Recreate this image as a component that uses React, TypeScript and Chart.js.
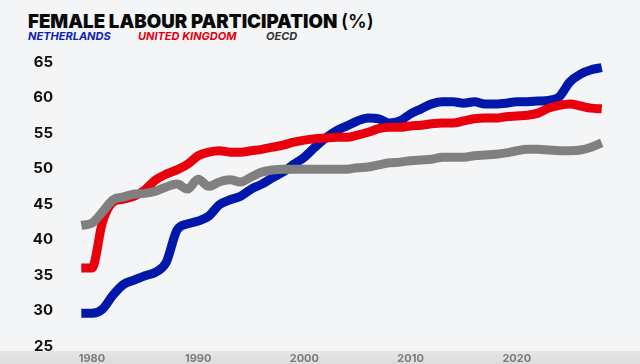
import React, { useEffect, useRef } from "react";
import { Chart, registerables } from "chart.js";

Chart.register(...registerables);

const years = [
  1979, 1980, 1981, 1982, 1983, 1984, 1985, 1986, 1987, 1988, 1989,
  1990, 1991, 1992, 1993, 1994, 1995, 1996, 1997, 1998, 1999,
  2000, 2001, 2002, 2003, 2004, 2005, 2006, 2007, 2008, 2009,
  2010, 2011, 2012, 2013, 2014, 2015, 2016, 2017, 2018, 2019,
  2020, 2021, 2022, 2023, 2024, 2025, 2026, 2027, 2028,
];

const netherlands = [
  29.6, 29.6, 30.2, 32.2, 33.7, 34.3, 34.9, 35.4, 36.8, 41.3, 42.2,
  42.6, 43.3, 44.9, 45.6, 46.1, 47.1, 47.8, 48.7, 49.5, 50.6,
  51.6, 53.0, 54.3, 55.3, 56.0, 56.7, 57.1, 57.0, 56.4, 56.7,
  57.7, 58.4, 59.1, 59.4, 59.4, 59.2, 59.4, 59.1, 59.1, 59.2,
  59.4, 59.4, 59.5, 59.6, 60.1, 62.2, 63.3, 63.9, 64.2,
];

const unitedKingdom = [
  36.0, 36.0, 42.5, 45.3, 45.7, 46.1, 47.0, 48.4, 49.2, 49.8, 50.6,
  51.8, 52.3, 52.5, 52.3, 52.3, 52.5, 52.7, 53.0, 53.3, 53.7,
  54.0, 54.2, 54.3, 54.4, 54.4, 54.7, 55.1, 55.6, 55.8, 55.8,
  56.0, 56.1, 56.3, 56.4, 56.4, 56.7, 57.0, 57.1, 57.1, 57.3,
  57.4, 57.5, 57.8, 58.5, 58.9, 59.1, 58.8, 58.5, 58.4,
];

const oecd = [
  42.0, 42.3, 43.9, 45.6, 46.0, 46.4, 46.5, 46.8, 47.4, 47.8, 47.1,
  48.5, 47.5, 48.1, 48.4, 48.1, 48.8, 49.5, 49.8, 49.9, 49.9,
  49.9, 49.9, 49.9, 49.9, 49.9, 50.1, 50.2, 50.5, 50.8, 50.9,
  51.1, 51.2, 51.3, 51.6, 51.6, 51.6, 51.8, 51.9, 52.0, 52.2,
  52.5, 52.7, 52.7, 52.6, 52.5, 52.5, 52.6, 53.0, 53.6,
];

const xTicks = [1980, 1990, 2000, 2010, 2020];
const yTicks = [25, 30, 35, 40, 45, 50, 55, 60, 65];

const title = "FEMALE LABOUR PARTICIPATION";
const titleSuffix = "(%)";
const legendItems = [
  { label: "NETHERLANDS", color: "#0a22b0" },
  { label: "UNITED KINGDOM", color: "#e3000f" },
  { label: "OECD", color: "#333333" },
];

const BLUE = "#0018aa";
const RED = "#e8000c";
const GRAY = "#808080";

export default function App() {
  const canvasRef = useRef<HTMLCanvasElement | null>(null);

  useEffect(() => {
    const canvas = canvasRef.current;
    if (!canvas) return;
    const mk = (vals: number[]) => years.map((y, i) => ({ x: y, y: vals[i] }));
    const ds = (label: string, vals: number[], color: string) => ({
      label,
      data: mk(vals),
      borderColor: color,
      backgroundColor: color,
      borderWidth: 9,
      pointRadius: 0,
      tension: 0.4,
      cubicInterpolationMode: "monotone" as const,
      fill: false,
      clip: false as any,
      borderCapStyle: "butt" as const,
      borderJoinStyle: "round" as const,
    });
    const chart = new Chart(canvas, {
      type: "line",
      data: {
        datasets: [
          ds("OECD", oecd, GRAY),
          ds("United Kingdom", unitedKingdom, RED),
          ds("Netherlands", netherlands, BLUE),
        ],
      },
      options: {
        animation: false,
        responsive: false,
        maintainAspectRatio: false,
        layout: { padding: { left: 0, right: 17, top: 62, bottom: 0 } },
        plugins: {
          legend: { display: false },
          title: { display: false },
          tooltip: { enabled: false },
        },
        scales: {
          x: {
            type: "linear",
            min: 1978.5,
            max: 2030,
            border: { display: false },
            grid: { display: false, drawTicks: false },
            afterBuildTicks: (s: any) => {
              s.ticks = xTicks.map((v) => ({ value: v }));
            },
            afterFit: (s: any) => {
              s.height = 18;
              s.paddingLeft = 0;
              s.paddingRight = 0;
            },
            ticks: {
              autoSkip: false,
              maxRotation: 0,
              padding: 6,
              color: "#7a7a7a",
              font: { family: "Inter", size: 11, weight: "bold" },
              callback: (v: any) => String(v),
            },
          },
          y: {
            min: 25,
            max: 65,
            border: { display: false },
            grid: { display: false, drawTicks: false },
            afterBuildTicks: (s: any) => {
              s.ticks = yTicks.map((v) => ({ value: v }));
            },
            afterFit: (s: any) => {
              s.width = 76;
              s.paddingTop = 0;
              s.paddingBottom = 0;
            },
            ticks: {
              padding: 23,
              color: "#111111",
              font: { family: "Inter", size: 15, weight: "bold" },
            },
          },
        },
      },
    });
    return () => chart.destroy();
  }, []);

  return (
    <div
      style={{
        position: "fixed",
        left: 0,
        top: 0,
        width: 640,
        height: 364,
        background: "#f4f5f6",
        overflow: "hidden",
      }}
    >
      <div
        style={{
          position: "absolute",
          left: 0,
          top: 351,
          width: 640,
          height: 13,
          background: "linear-gradient(#e6e6e6, #dcdcdc)",
        }}
      />
      <div
        style={{
          position: "absolute",
          left: 28,
          top: 10,
          fontFamily: "Inter, 'DejaVu Sans', sans-serif",
          fontWeight: 900,
          fontSize: 18.7,
          color: "#0a0a0a",
          whiteSpace: "nowrap",
          letterSpacing: 0,
          lineHeight: "24px",
        }}
      >
        {title}{" "}
        <span style={{ fontWeight: 600 }}>{titleSuffix}</span>
      </div>
      <div
        style={{
          position: "absolute",
          left: 28,
          top: 29,
          fontFamily: "Inter, 'DejaVu Sans', sans-serif",
          fontWeight: 700,
          fontStyle: "italic",
          fontSize: 11,
          lineHeight: "14px",
          whiteSpace: "nowrap",
        }}
      >
        {legendItems.map((it, i) => (
          <span
            key={it.label}
            style={{
              position: "absolute",
              left: [0, 110, 238][i],
              color: it.color,
            }}
          >
            {it.label}
          </span>
        ))}
      </div>
      <canvas
        ref={canvasRef}
        width={640}
        height={364}
        style={{ position: "absolute", left: 0, top: 0, width: 640, height: 364 }}
      />
    </div>
  );
}
